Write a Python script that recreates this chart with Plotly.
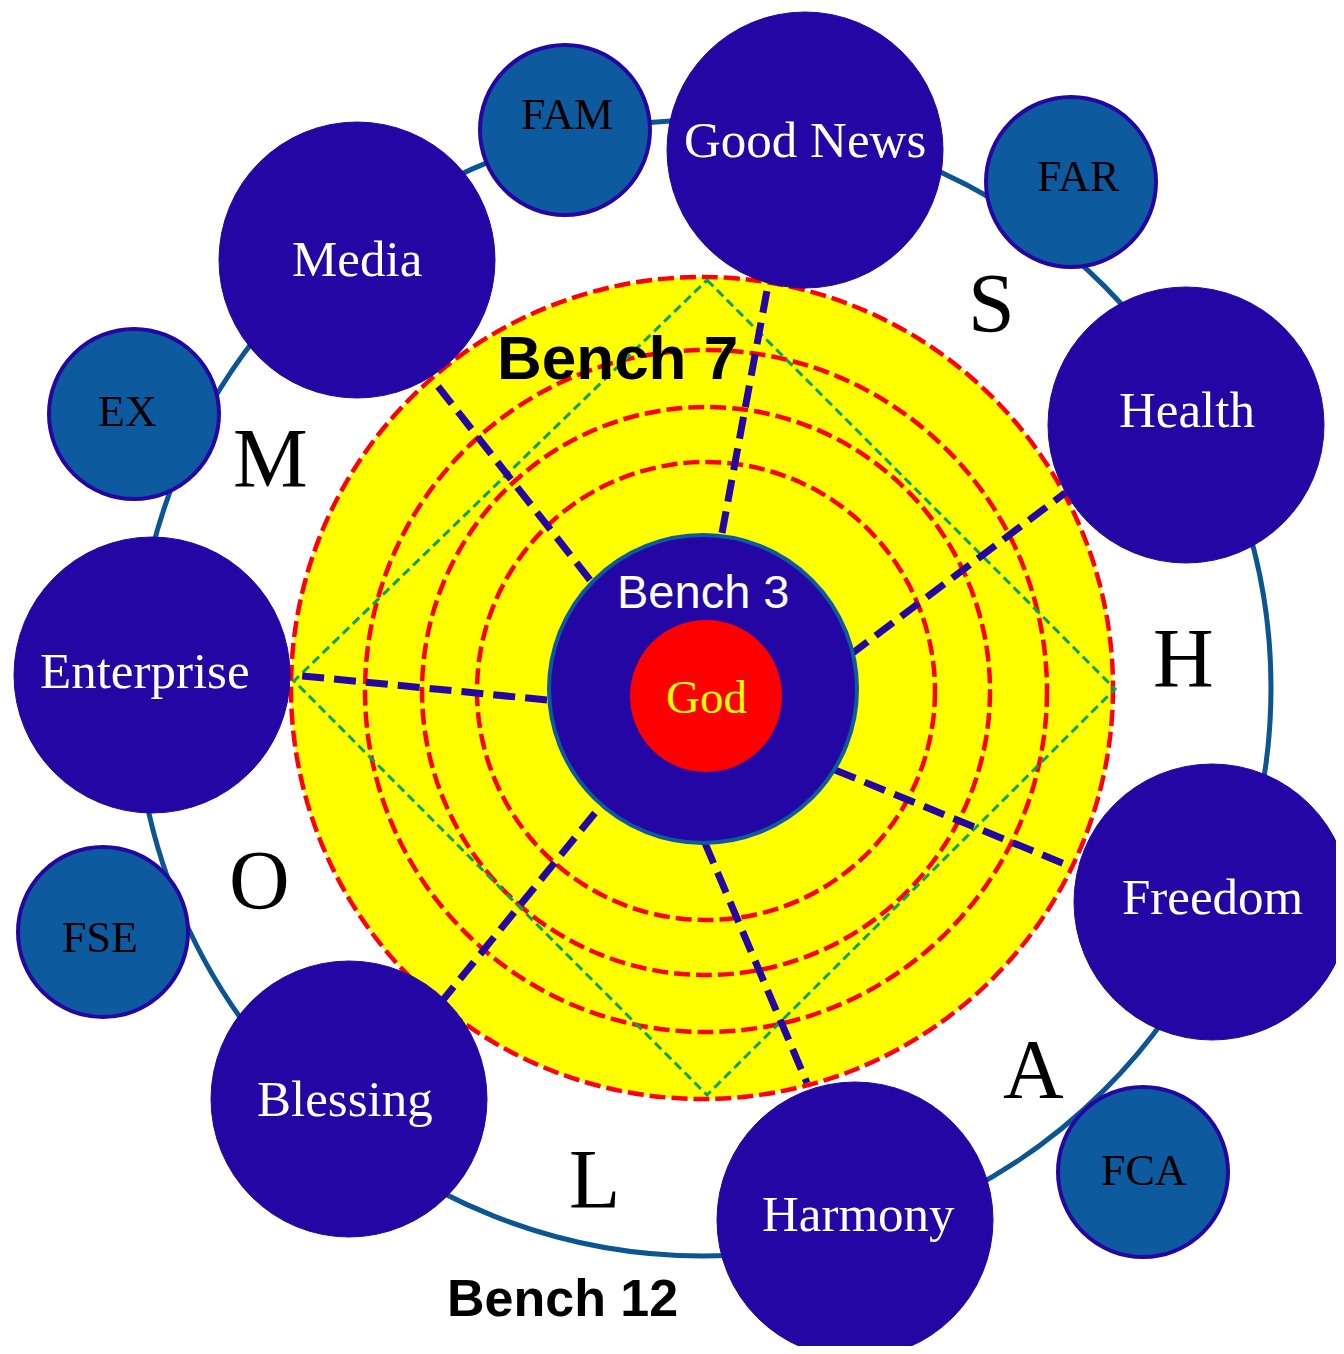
import plotly.graph_objects as go

# ---------------- data ----------------
center_x, center_y = 702, 688          # centre of the yellow field
ring_cx, ring_cy = 706, 691            # centre of inner red rings
outer_ring_r = 568                     # blue orbit ring
field_r = 411                          # yellow field radius
red_ring_r = [229, 284, 341]           # inner dashed red rings
bench3_r = 154
god_cx, god_cy, god_r = 706, 696, 76

big_names = ["Good News", "Media", "Enterprise", "Blessing", "Harmony", "Freedom", "Health"]
big_x = [805, 357, 152, 349, 855, 1212, 1186]
big_y = [150, 260, 675, 1099, 1220, 902, 425]
big_label_x = [805, 357, 145, 345, 858, 1212, 1187]
big_label_y = [140, 259, 671, 1099, 1214, 897, 410]
big_r = 138

small_names = ["FAM", "FAR", "EX", "FSE", "FCA"]
small_x = [565, 1071, 134, 103, 1143]
small_y = [130, 182, 414, 932, 1172]
small_label_x = [567, 1078, 127, 100, 1144]
small_label_y = [114, 176, 411, 937, 1170]
small_r = 87

sector_letters = ["S", "M", "H", "O", "A", "L"]
sector_x = [991, 270, 1183, 259, 1033, 594]
sector_y = [303, 458, 658, 880, 1069, 1179]

# spokes: from Bench 3 edge to outer nodes
spoke_x0 = [722, 590, 850, 547, 835, 705, 595]
spoke_y0 = [533, 580, 655, 700, 770, 843, 813]
spoke_x1 = [768, 433, 1065, 293, 1072, 807, 443]
spoke_y1 = [285, 380, 493, 675, 867, 1083, 1000]

diamond_x = [707, 1115, 707, 294, 707]
diamond_y = [280, 689, 1095, 681, 280]

# ---------------- styles ----------------
NAVY = "#2306A4"
STEEL = "#0E5A9E"
RING = "#0C5593"
SERIF = "Liberation Serif"
SANS = "Liberation Sans"

PAGE_OFF = 8           # default body margin of the html page
W, H = 1344 - PAGE_OFF, 1354 - 2 * PAGE_OFF
fig = go.Figure()
shapes = []


def circ(cx, cy, r, **kw):
    d = dict(type="circle", xref="x", yref="y", x0=cx - r, x1=cx + r, y0=cy - r, y1=cy + r)
    d.update(kw)
    return d


RED_LINE = dict(color="#FF0000", width=4.5, dash="16px,6px")

# outer orbit ring
shapes.append(circ(center_x + 1, center_y, outer_ring_r, line=dict(color=RING, width=5), fillcolor="rgba(0,0,0,0)", layer="below"))
# yellow field
shapes.append(circ(center_x, center_y, field_r, fillcolor="#FFFF00", line=RED_LINE, layer="below"))
# inner red rings
for r in red_ring_r:
    shapes.append(circ(ring_cx, ring_cy, r, fillcolor="rgba(0,0,0,0)", line=RED_LINE, layer="below"))
# green diamond
path = "M " + " L ".join(f"{x},{y}" for x, y in zip(diamond_x, diamond_y)) + " Z"
shapes.append(dict(type="path", xref="x", yref="y", path=path, line=dict(color="#0BA35E", width=3, dash="9px,5px"), layer="below"))
# spokes
for a, b, c, d in zip(spoke_x0, spoke_y0, spoke_x1, spoke_y1):
    shapes.append(dict(type="line", xref="x", yref="y", x0=a, y0=b, x1=c, y1=d, line=dict(color=NAVY, width=7, dash="22px,10px"), layer="below"))
# bench 3 and God
shapes.append(circ(center_x + 1, center_y + 1, bench3_r, fillcolor=NAVY, line=dict(color=STEEL, width=4), layer="below"))
shapes.append(circ(god_cx, god_cy, god_r, fillcolor="#FF0000", line=dict(color="#FF0000", width=0), layer="below"))
# outer nodes
for x, y in zip(big_x, big_y):
    shapes.append(circ(x, y, big_r, fillcolor=NAVY, line=dict(color=NAVY, width=1), layer="below"))
for x, y in zip(small_x, small_y):
    shapes.append(circ(x, y, small_r - 2, fillcolor=STEEL, line=dict(color=NAVY, width=4), layer="below"))

ann = []


def text(x, y, t, size, color, family):
    ann.append(dict(x=x, y=y, xref="x", yref="y", text=t, showarrow=False, xanchor="center", yanchor="middle",
                    font=dict(size=size, color=color, family=family)))


for n, x, y in zip(big_names, big_label_x, big_label_y):
    text(x, y, n, 51, "white", SERIF)
for n, x, y in zip(small_names, small_label_x, small_label_y):
    text(x, y, n, 44, "black", SERIF)
for n, x, y in zip(sector_letters, sector_x, sector_y):
    text(x, y, n, 84, "black", SERIF)

text(617, 357, "<b>Bench 7</b>", 62, "black", SANS)
text(703, 591, "Bench 3", 47, "white", SANS)
text(706, 697, "God", 47, "#FFFF00", SERIF)
text(562, 1298, "<b>Bench 12</b>", 52, "black", SANS)

fig.add_trace(go.Scatter(x=[PAGE_OFF, PAGE_OFF + W], y=[PAGE_OFF, PAGE_OFF + H], mode="markers",
                         marker=dict(opacity=0), hoverinfo="skip", showlegend=False))

fig.update_layout(
    width=W, height=H,
    margin=dict(l=0, r=0, t=0, b=0),
    paper_bgcolor="white", plot_bgcolor="white",
    shapes=shapes, annotations=ann,
    xaxis=dict(range=[PAGE_OFF, PAGE_OFF + W], visible=False, fixedrange=True),
    yaxis=dict(range=[PAGE_OFF + H, PAGE_OFF], visible=False, fixedrange=True),
    showlegend=False, hovermode=False,
)

fig.write_html("out.html")
